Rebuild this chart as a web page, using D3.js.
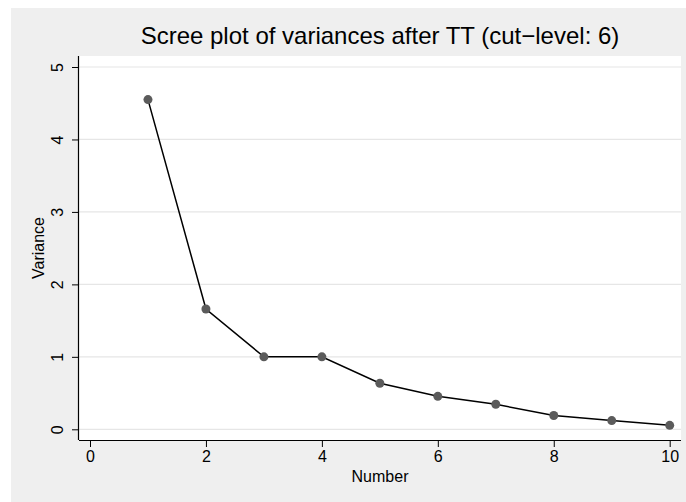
<!DOCTYPE html>
<meta charset="utf-8">
<body style="margin:0;background:#fff">
<style>
    text { font-family: "Liberation Sans", Arial, sans-serif; fill: #000; }
    .grid line { stroke: #e6e6e6; stroke-width: 1.2px; }
    .line1 { fill: none; stroke: #000; stroke-width: 1.5px; }
</style>
<script src="https://d3js.org/d3.v7.min.js"></script>
<script>
    // data
    var numbers = [1, 2, 3, 4, 5, 6, 7, 8, 9, 10];
    var variances = [4.55, 1.66, 1.0, 1.0, 0.635, 0.455, 0.345, 0.19, 0.12, 0.055];
    var xTicks = [0, 2, 4, 6, 8, 10];
    var yTicks = [0, 1, 2, 3, 4, 5];

    var W = 686, H = 502;
    // plot region (white) inside the gray graph region
    var plot = {left: 79, right: 681, top: 56, bottom: 440};

    var x = d3.scaleLinear().domain([0, 10]).range([90, 669.7]);
    var y = d3.scaleLinear().domain([0, 5]).range([429.3, 67]);

    var svg = d3.select("body").append("svg")
        .attr("width", W).attr("height", H);

    // graph region
    svg.append("rect").attr("x", 11).attr("y", 8)
        .attr("width", W - 11).attr("height", H - 8).attr("fill", "#efefef");
    svg.append("rect").attr("x", plot.left).attr("y", plot.top)
        .attr("width", plot.right - plot.left).attr("height", plot.bottom - plot.top)
        .attr("fill", "#fff");

    // horizontal gridlines
    svg.append("g").attr("class", "grid")
        .selectAll("line").data(yTicks).enter().append("line")
        .attr("x1", plot.left).attr("x2", plot.right)
        .attr("y1", function(d) { return y(d); })
        .attr("y2", function(d) { return y(d); });

    // x axis
    var xAxis = svg.append("g")
        .attr("transform", "translate(0," + plot.bottom + ")")
        .call(d3.axisBottom(x).tickValues(xTicks).tickFormat(d3.format("d"))
            .tickSize(7).tickPadding(4).tickSizeOuter(0));
    xAxis.select(".domain").attr("d", "M" + plot.left + ",0.5H" + plot.right);
    xAxis.selectAll("text").style("font-size", "16px").attr("fill", "#000");

    // y axis, labels rotated like Stata
    var yAxis = svg.append("g")
        .attr("transform", "translate(" + plot.left + ",0)")
        .call(d3.axisLeft(y).tickValues(yTicks).tickFormat(d3.format("d"))
            .tickSize(7).tickSizeOuter(0));
    yAxis.select(".domain").attr("d", "M-0.5," + plot.top + "V" + plot.bottom);
    yAxis.selectAll("text")
        .style("font-size", "16px").attr("fill", "#000")
        .attr("text-anchor", "middle").attr("dy", null)
        .attr("x", null)
        .attr("transform", "translate(-16,0) rotate(-90)");
    svg.selectAll(".tick line").attr("stroke", "#000");
    svg.selectAll(".domain").attr("stroke", "#000").attr("stroke-width", 1.2);

    // axis titles and title
    svg.append("text").attr("x", (plot.left + plot.right) / 2).attr("y", 482)
        .attr("text-anchor", "middle").style("font-size", "16px").text("Number");
    svg.append("text")
        .attr("transform", "translate(44," + (plot.top + plot.bottom) / 2 + ") rotate(-90)")
        .attr("text-anchor", "middle").style("font-size", "16px").text("Variance");
    svg.append("text").attr("x", (plot.left + plot.right) / 2).attr("y", 44)
        .attr("text-anchor", "middle").style("font-size", "24px")
        .text("Scree plot of variances after TT (cut\u2212level: 6)");

    // connected line and markers
    var valueline = d3.line()
        .x(function(d, i) { return x(numbers[i]); })
        .y(function(d) { return y(d); });
    svg.append("path").datum(variances).attr("class", "line1").attr("d", valueline);
    svg.selectAll(".dot").data(variances).enter().append("circle")
        .attr("class", "dot")
        .attr("cx", function(d, i) { return x(numbers[i]); })
        .attr("cy", function(d) { return y(d); })
        .attr("r", 4.5).attr("fill", "#5b5b5b");
</script>
